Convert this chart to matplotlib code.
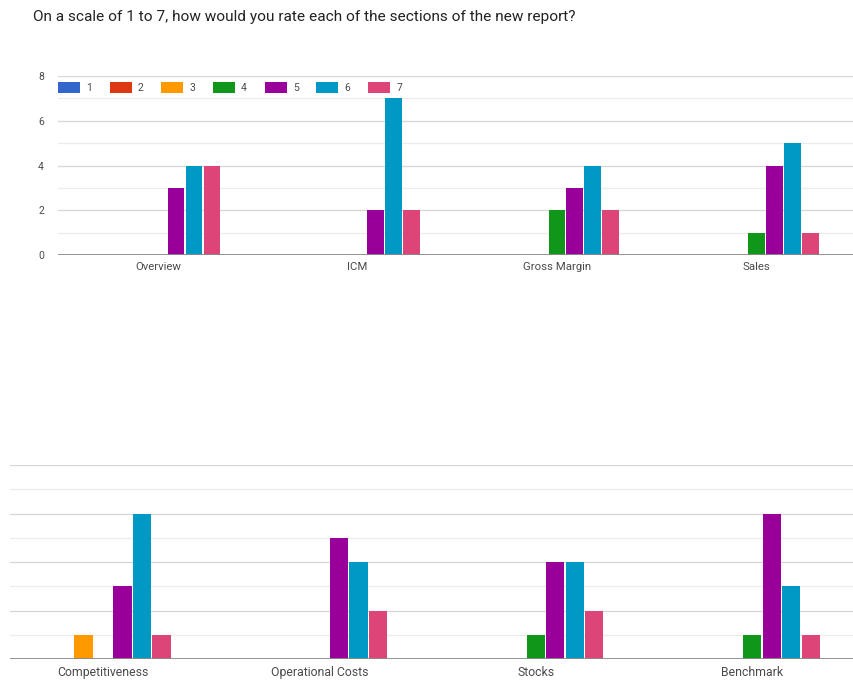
import numpy as np
import matplotlib
matplotlib.use("Agg")
import matplotlib.pyplot as plt

plt.rcParams['font.family'] = ['Roboto', 'DejaVu Sans']

TITLE = "On a scale of 1 to 7, how would you rate each of the sections of the new report?"
ratings = ['1', '2', '3', '4', '5', '6', '7']
colors = ['#3366cc', '#dc3912', '#ff9900', '#109618', '#990099', '#0099c6', '#dd4477']

top_sections = ['Overview', 'ICM', 'Gross Margin', 'Sales']
bottom_sections = ['Competitiveness', 'Operational Costs', 'Stocks', 'Benchmark']

# counts per rating (1..7), one list per section
overview = [0, 0, 0, 0, 3, 4, 4]
icm = [0, 0, 0, 0, 2, 7, 2]
gross_margin = [0, 0, 0, 2, 3, 4, 2]
sales = [0, 0, 0, 1, 4, 5, 1]
competitiveness = [0, 0, 1, 0, 3, 6, 1]
operational_costs = [0, 0, 0, 0, 5, 4, 2]
stocks = [0, 0, 0, 1, 4, 4, 2]
benchmark = [0, 0, 0, 1, 6, 3, 1]

top_counts = np.array([overview, icm, gross_margin, sales])
bottom_counts = np.array([competitiveness, operational_costs, stocks, benchmark])

W, H = 854, 682
fig = plt.figure(figsize=(W / 100, H / 100), dpi=100)
fig.text(33 / W, 1 - 17 / H, TITLE, fontsize=11.1, color='#222222', va='center', ha='left')

step = 0.09
bw = 0.084


def panel(rect, sections, counts, xlim, show_y, lab_size):
    ax = fig.add_axes(rect)
    x = np.arange(len(sections))
    handles = []
    for j, r in enumerate(ratings):
        b = ax.bar(x + (j - 3) * step, counts[:, j], width=bw, color=colors[j],
                   label=r, linewidth=0, zorder=3)
        handles.append(b)
    ax.set_xlim(*xlim)
    ax.set_ylim(0, 8)
    for v in range(1, 9):
        ax.axhline(v, color='#d6d6d6' if v % 2 == 0 else '#ececec', lw=0.9, zorder=1)
    ax.axhline(0, color='#8a8a8a', lw=1.3, zorder=4)
    for s in ax.spines.values():
        s.set_visible(False)
    ax.set_xticks(x)
    ax.set_xticklabels(sections, fontsize=lab_size, color='#4a4a4a')
    ax.tick_params(axis='x', length=0, pad=5)
    if show_y:
        ax.set_yticks([0, 2, 4, 6, 8])
        ax.set_yticklabels(['0', '2', '4', '6', '8'], fontsize=7.5, color='#4a4a4a')
        ax.tick_params(axis='y', length=0, pad=10)
    else:
        ax.set_yticks([])
    return ax, handles


ax1, handles = panel([58 / W, 1 - 255 / H, (W - 58) / W, (255 - 76) / H],
                     top_sections, top_counts, (-0.502, 3.49), True, 8.2)
ax2, _ = panel([10 / W, 1 - 659 / H, (W - 10) / W, (659 - 465) / H],
               bottom_sections, bottom_counts, (-0.43, 3.47), False, 8.8)

ax1.legend(handles=handles, labels=ratings, loc='center left', bbox_to_anchor=(0, 7.5 / 8),
           ncol=7, frameon=False, fontsize=7.5, labelcolor='#4a4a4a',
           handlelength=2.1, handleheight=1.25, handletextpad=0.6, columnspacing=1.7,
           borderpad=0, borderaxespad=0)

fig.savefig("out.png", dpi=100)
